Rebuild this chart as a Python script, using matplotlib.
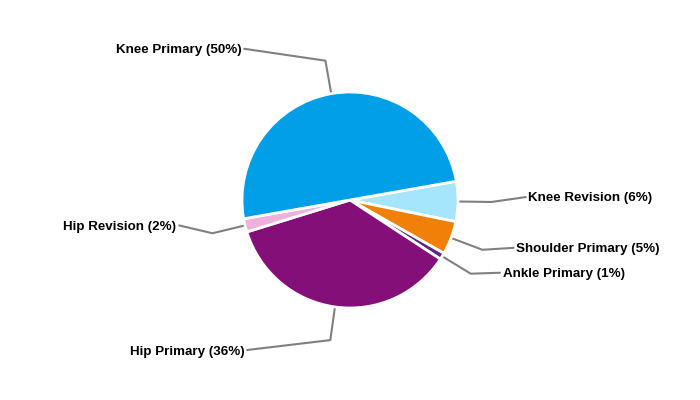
import numpy as np
import matplotlib
matplotlib.use("Agg")
import matplotlib.pyplot as plt

plt.rcParams['font.family'] = ['Liberation Sans', 'DejaVu Sans']

labels = ["Knee Revision", "Shoulder Primary", "Ankle Primary",
          "Hip Primary", "Hip Revision", "Knee Primary"]
shares = [6, 5, 1, 36, 2, 50]
colors = ["#a6e6fc", "#f08008", "#5b2a80", "#850f78", "#f0b0dc", "#009fe8"]

# label placement relative to the leader elbow (pixels, y up)
offsets = [(35, 5), (32, 2), (30, 1), (-84, -10), (-34, 8), (-82, 12)]

fig = plt.figure(figsize=(7, 4), dpi=100)
ax = fig.add_axes([0, 0, 1, 1])

cx, cy, r = 350, 200, 108
wedges, _ = ax.pie(shares, center=(cx, cy), radius=r, startangle=10,
                   counterclock=False, colors=colors,
                   wedgeprops=dict(edgecolor="white", linewidth=2))

for w, lab, val, (dx, dy) in zip(wedges, labels, shares, offsets):
    th = np.deg2rad((w.theta1 + w.theta2) / 2)
    x0, y0 = cx + r * np.cos(th), cy + r * np.sin(th)
    x1, y1 = cx + 1.31 * r * np.cos(th), cy + 1.31 * r * np.sin(th)
    x2, y2 = x1 + dx, y1 + dy
    ax.plot([x0, x1, x2], [y0, y1, y2], color="#808080", lw=1.5,
            solid_capstyle="butt", zorder=0)
    side = 1 if dx > 0 else -1
    ax.text(x2 + 2 * side, y2 - 1.5, f"{lab} ({val}%)",
            ha="left" if side > 0 else "right",
            va="center", fontsize=9.6, fontweight="bold", color="black")

ax.set_xlim(0, 700)
ax.set_ylim(0, 400)
ax.set_aspect("equal")
ax.axis("off")

fig.savefig("out.png", dpi=100)
